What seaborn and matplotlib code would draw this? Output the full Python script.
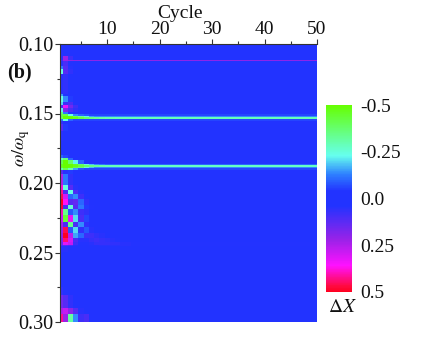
import pandas as pd
import numpy as np
import matplotlib
matplotlib.use('Agg')
import matplotlib.pyplot as plt
from matplotlib.colors import LinearSegmentedColormap
from matplotlib.ticker import FixedLocator
import seaborn as sns

# Values. Each row holds from its omega until the next one.
cycles = list(range(1, 51))
omega_rows = [0.100, 0.109, 0.1115, 0.1125, 0.116, 0.118, 0.122, 0.136, 0.138, 0.142,
              0.144, 0.146, 0.149, 0.1505, 0.152, 0.1525, 0.154, 0.1545, 0.1555, 0.158,
              0.163, 0.170, 0.180, 0.182, 0.184, 0.1865, 0.187, 0.189, 0.1895, 0.191,
              0.194, 0.2015, 0.2055, 0.208, 0.212, 0.216, 0.219, 0.2235, 0.228, 0.232,
              0.2365, 0.240, 0.243, 0.2445, 0.2455, 0.250, 0.275, 0.281, 0.290, 0.2945,
              0.300]
head_values = [
    [0.03, 0, 0, 0, 0, 0, 0, 0, 0, 0, 0, 0, 0, 0],
    [0.05, 0.22, 0.08, 0, 0, 0, 0, 0, 0, 0, 0, 0, 0, 0],
    [0.10, 0.22, 0.20, 0.20, 0.20, 0.20, 0.20, 0.20, 0.20, 0.20, 0.20, 0.20, 0.20, 0.20],
    [0.05, 0.10, 0.04, 0, 0, 0, 0, 0, 0, 0, 0, 0, 0, 0],
    [-0.12, 0.12, 0.05, 0, 0, 0, 0, 0, 0, 0, 0, 0, 0, 0],
    [-0.24, 0.12, 0.06, 0, 0, 0, 0, 0, 0, 0, 0, 0, 0, 0],
    [0.05, 0.06, 0.02, 0, 0, 0, 0, 0, 0, 0, 0, 0, 0, 0],
    [-0.15, 0, 0, 0, 0, 0, 0, 0, 0, 0, 0, 0, 0, 0],
    [-0.24, -0.14, -0.05, 0, 0, 0, 0, 0, 0, 0, 0, 0, 0, 0],
    [-0.20, 0.08, 0.10, 0.03, 0, 0, 0, 0, 0, 0, 0, 0, 0, 0],
    [0.10, 0.33, 0.16, 0.08, 0.02, 0, 0, 0, 0, 0, 0, 0, 0, 0],
    [-0.22, 0.18, 0.10, 0.06, 0.02, 0, 0, 0, 0, 0, 0, 0, 0, 0],
    [-0.36, -0.12, 0, 0, 0, 0, 0, 0, 0, 0, 0, 0, 0, 0],
    [-0.42, -0.42, -0.24, -0.14, -0.10, -0.08, -0.06, -0.06, -0.06, -0.06, -0.06, -0.06, -0.06, -0.06],
    [-0.42, -0.50, -0.48, -0.40, -0.32, -0.22, -0.16, -0.14, -0.14, -0.14, -0.14, -0.14, -0.14, -0.14],
    [-0.40, -0.50, -0.50, -0.47, -0.42, -0.38, -0.35, -0.33, -0.31, -0.30, -0.30, -0.29, -0.29, -0.29],
    [-0.30, -0.48, -0.44, -0.36, -0.28, -0.18, -0.14, -0.14, -0.14, -0.14, -0.14, -0.14, -0.14, -0.14],
    [-0.12, -0.24, -0.10, -0.06, -0.06, -0.06, -0.06, -0.06, -0.06, -0.06, -0.06, -0.06, -0.06, -0.06],
    [0.06, 0, 0, 0, 0, 0, 0, 0, 0, 0, 0, 0, 0, 0],
    [0.12, -0.05, 0, 0, 0, 0, 0, 0, 0, 0, 0, 0, 0, 0],
    [0.05, 0, 0, 0, 0, 0, 0, 0, 0, 0, 0, 0, 0, 0],
    [0.02, 0, 0, 0, 0, 0, 0, 0, 0, 0, 0, 0, 0, 0],
    [-0.10, -0.06, 0, 0, 0, 0, 0, 0, 0, 0, 0, 0, 0, 0],
    [-0.28, -0.36, -0.10, 0, 0, 0, 0, 0, 0, 0, 0, 0, 0, 0],
    [-0.40, -0.50, -0.38, -0.22, -0.10, -0.03, 0, 0, 0, 0, 0, 0, 0, 0],
    [-0.46, -0.50, -0.50, -0.46, -0.38, -0.26, -0.18, -0.14, -0.12, -0.10, -0.10, -0.10, -0.10, -0.10],
    [-0.46, -0.50, -0.50, -0.47, -0.42, -0.38, -0.35, -0.33, -0.31, -0.30, -0.29, -0.29, -0.28, -0.28],
    [-0.44, -0.50, -0.48, -0.42, -0.36, -0.26, -0.18, -0.14, -0.14, -0.14, -0.14, -0.14, -0.14, -0.14],
    [-0.30, -0.40, -0.30, -0.16, -0.08, -0.06, -0.06, -0.06, -0.06, -0.06, -0.06, -0.06, -0.06, -0.06],
    [0.12, 0.05, -0.05, 0, 0, 0, 0, 0, 0, 0, 0, 0, 0, 0],
    [0.25, -0.12, 0.06, 0.03, 0, 0, 0, 0, 0, 0, 0, 0, 0, 0],
    [0.38, -0.24, 0.12, 0.05, 0.02, 0, 0, 0, 0, 0, 0, 0, 0, 0],
    [0.42, 0.10, -0.24, 0.10, 0.05, 0.02, 0, 0, 0, 0, 0, 0, 0, 0],
    [0.46, 0.30, -0.10, -0.14, 0.08, 0.04, 0.02, 0, 0, 0, 0, 0, 0, 0],
    [0.50, 0.36, 0.12, 0.14, -0.10, 0.06, 0.03, 0, 0, 0, 0, 0, 0, 0],
    [0.48, 0.10, -0.26, 0.12, -0.12, -0.05, 0.04, 0.02, 0, 0, 0, 0, 0, 0],
    [0.40, -0.34, -0.08, -0.14, 0.08, 0.06, 0.02, 0, 0, 0, 0, 0, 0, 0],
    [0.30, -0.44, 0.32, -0.20, 0.10, -0.06, 0.03, 0.02, 0, 0, 0, 0, 0, 0],
    [0.24, 0.10, -0.34, 0.10, -0.14, 0.06, -0.03, 0.03, 0.02, 0, 0, 0, 0, 0],
    [0.22, 0.46, -0.08, -0.20, 0.06, -0.08, 0.05, 0.03, 0.02, 0.02, 0, 0, 0, 0],
    [0.20, 0.50, 0.26, -0.16, -0.10, 0.08, 0.08, 0.06, 0.05, 0.03, 0.02, 0, 0, 0],
    [0.18, 0.44, 0.30, 0.10, 0.05, 0.05, 0.07, 0.08, 0.07, 0.06, 0.05, 0.04, 0.03, 0.03],
    [0.16, 0.32, 0.28, 0.08, 0.04, 0.04, 0.05, 0.07, 0.07, 0.07, 0.06, 0.06, 0.05, 0.05],
    [0.10, 0.12, 0.10, 0.05, 0.03, 0.03, 0.04, 0.04, 0.05, 0.05, 0.05, 0.05, 0.05, 0.05],
    [0.05, 0.05, 0.03, 0.02, 0.01, 0.01, 0.02, 0.02, 0.02, 0.02, 0.02, 0.02, 0.02, 0.02],
    [0.03, 0.02, 0, 0, 0, 0, 0, 0, 0, 0, 0, 0, 0, 0],
    [0.06, 0.04, 0.02, 0, 0, 0, 0, 0, 0, 0, 0, 0, 0, 0],
    [0.16, 0.12, 0.06, 0.02, 0, 0, 0, 0, 0, 0, 0, 0, 0, 0],
    [0.25, 0.28, 0.20, 0.12, 0.05, 0.02, 0, 0, 0, 0, 0, 0, 0, 0],
    [0.42, 0.22, -0.32, -0.14, 0.08, 0.10, 0.03, -0.03, 0.02, 0.02, 0, 0, 0, 0],
    [0.46, 0.25, -0.38, 0.10, 0.18, -0.05, 0.06, 0.04, 0.02, 0.02, 0, 0, 0, 0],
]
tail_values = [0, 0, 0.20, 0, 0, 0, 0, 0, 0, 0,
               0, 0, 0, -0.06, -0.14, -0.29, -0.14, -0.06, 0, 0,
               0, 0, 0, 0, 0, -0.10, -0.28, -0.14, -0.06, 0,
               0, 0, 0, 0, 0, 0, 0, 0, 0, 0,
               0, 0.02, 0.04, 0.04, 0.02, 0, 0, 0, 0, 0,
               0]

cbar_ticks = [-0.5, -0.25, 0.0, 0.25, 0.5]
cbar_labels = ['-0.5', '-0.25', '0.0', '0.25', '0.5']
x_major = [10, 20, 30, 40, 50]
x_minor = [5, 15, 25, 35, 45]
y_major = [0.10, 0.15, 0.20, 0.25, 0.30]
y_minor = [0.125, 0.175, 0.225, 0.275]

sns.set_theme(style='ticks')
plt.rcParams['font.family'] = ['Liberation Serif', 'DejaVu Serif']
plt.rcParams['mathtext.fontset'] = 'stix'

# cycles 1-14 are read cell by cell, later ones stay at the level of the row
tail_cols = np.array(tail_values)[:, None] * np.ones((1, 36))
table = pd.DataFrame(np.hstack([np.array(head_values), tail_cols]),
                     index=omega_rows, columns=cycles)
omega_grid = np.round(np.arange(0.100, 0.30025, 0.0005), 4)
table = table.reindex(omega_grid, method='ffill')

cmap = LinearSegmentedColormap.from_list('dx', [
    (0.00, '#66ff00'), (0.27, '#66ffee'), (0.37, '#2e80ff'), (0.46, '#2233ff'),
    (0.54, '#2233ff'), (0.72, '#9922e8'), (0.86, '#ff11ff'), (0.97, '#ff0a40'),
    (1.00, '#ff0020')])

fig = plt.figure(figsize=(4.36, 3.37), dpi=100)
ax = fig.add_axes([60 / 436, 1 - 322 / 337, 257 / 436, 278 / 337])
cax = fig.add_axes([326 / 436, 1 - 292 / 337, 26 / 436, 187 / 337])

sns.heatmap(table, ax=ax, cbar_ax=cax, cmap=cmap, vmin=-0.5, vmax=0.5,
            xticklabels=False, yticklabels=False, rasterized=True)

# heatmap cells sit at index + 0.5, the axis runs from cycle 1 to 50
ax.set_xlim(0.5, 49.5)
ax.set_ylim(len(omega_grid) - 0.5, 0.5)
ax.xaxis.tick_top()
ax.set_xticks([c - 0.5 for c in x_major])
ax.set_xticklabels([str(c) for c in x_major], fontsize=14)
ax.xaxis.set_minor_locator(FixedLocator([c - 0.5 for c in x_minor]))
y_pos = lambda w: (w - 0.100) / 0.0005 + 0.5
ax.set_yticks([y_pos(w) for w in y_major])
ax.set_yticklabels(['%.2f' % w for w in y_major], fontsize=14.5, rotation=0)
ax.yaxis.set_minor_locator(FixedLocator([y_pos(w) for w in y_minor]))
ax.tick_params(which='major', length=3.5, width=0.8, color='#333333', pad=1, labelcolor='#111111')
ax.tick_params(which='minor', length=2, width=0.8, color='#333333')
ax.tick_params(axis='x', which='both', top=True, bottom=False)
ax.tick_params(axis='y', which='both', left=True)
for side in ['top', 'left']:
    ax.spines[side].set_visible(True)
    ax.spines[side].set_linewidth(0.8)
    ax.spines[side].set_color('#333333')
ax.set_xlabel('')
ax.set_ylabel('')

cax.invert_yaxis()
cax.set_yticks(cbar_ticks)
cax.set_yticklabels(cbar_labels, fontsize=14, color='#111111')
cax.tick_params(length=0, pad=6)
cax.minorticks_off()

fig.text(180 / 436, 1 - 13 / 337, 'Cycle', fontsize=14, ha='center', va='center', color='#111111')
fig.text(7 / 436, 1 - 72 / 337, '(b)', fontsize=14.5, fontweight='bold', va='center', color='#111111')
fig.text(21 / 436, 1 - 148 / 337, r'$\omega/\omega_{\mathrm{q}}$', fontsize=13, rotation=90,
         ha='center', va='center', color='#111111')
fig.text(328 / 436, 1 - 308 / 337, r'$\mathit{\Delta X}$', fontsize=14, ha='left', va='center', color='#111111')

fig.savefig('out.png', dpi=100)
